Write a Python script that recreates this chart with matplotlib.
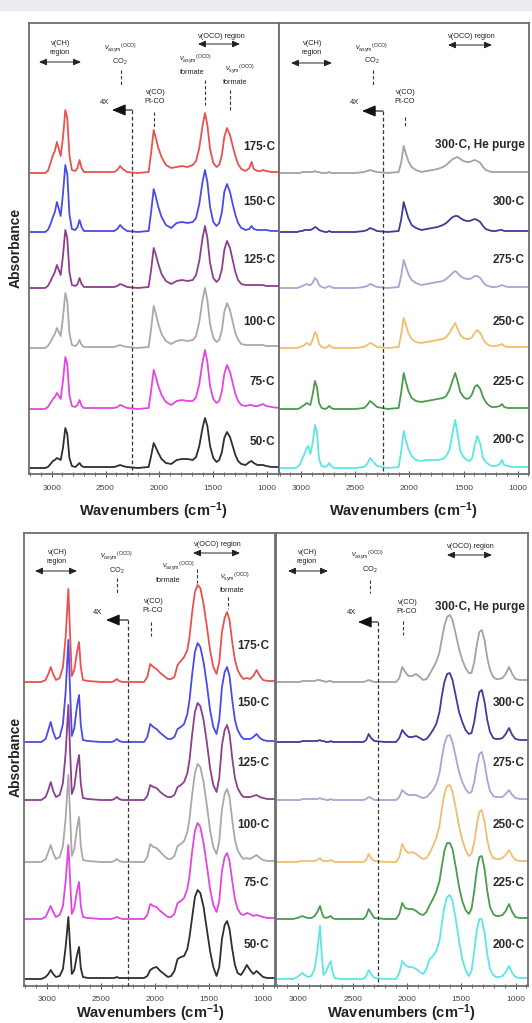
import matplotlib
matplotlib.use('Agg')
import matplotlib.pyplot as plt
from matplotlib.ticker import MultipleLocator
from matplotlib.patches import Rectangle, FancyArrowPatch
from matplotlib.lines import Line2D

plt.rcParams['font.family'] = ['Liberation Sans', 'DejaVu Sans']
plt.rcParams['mathtext.fontset'] = 'custom'
plt.rcParams['mathtext.rm'] = 'Liberation Sans'
plt.rcParams['mathtext.it'] = 'Liberation Sans:italic'
plt.rcParams['mathtext.bf'] = 'Liberation Sans:bold'

# ---------------- data (intensity, a.u.) ----------------
W_TOP = [3210, 3060, 3035, 3010, 2988, 2970, 2951, 2933, 2916, 2895, 2873, 2855, 2835, 2812, 2780,
         2760, 2741, 2722, 2700, 2500, 2420, 2390, 2364, 2340, 2300, 2200, 2100, 2077, 2053, 2035,
         2010, 1980, 1940, 1890, 1840, 1790, 1740, 1690, 1660, 1630, 1600, 1577, 1555, 1530, 1500,
         1470, 1445, 1420, 1398, 1373, 1345, 1320, 1295, 1270, 1240, 1200, 1165, 1145, 1125, 1090,
         1060, 1040, 1010, 960, 890]

TL_175 = [0, 0, 2, 10, 18, 22, 31, 24, 17, 35, 63, 55, 18, 3, 2, 5, 13, 5, 1, 1,
          1, 3, 7, 4, 1, 0, 1, 20, 43, 36, 25, 16, 8, 5, 6, 7, 6, 8, 12, 25,
          47, 60, 48, 24, 10, 6, 8, 18, 36, 45, 38, 27, 17, 9, 4, 2, 5, 11, 4, 2,
          2, 3, 2, 1, 1]
TL_150 = [0, 0, 2, 8, 15, 20, 30, 23, 16, 38, 67, 58, 18, 3, 2, 5, 12, 5, 1, 1,
          1, 3, 7, 4, 1, 0, 1, 20, 43, 36, 25, 15, 7, 4, 9, 10, 9, 10, 14, 28,
          50, 62, 50, 25, 10, 6, 9, 20, 40, 48, 40, 28, 17, 9, 4, 2, 3, 6, 3, 2,
          2, 2, 2, 1, 1]
TL_125 = [0, 0, 2, 7, 12, 16, 23, 18, 13, 32, 58, 50, 16, 3, 2, 4, 10, 4, 1, 1,
          1, 2, 4, 3, 1, 0, 1, 18, 40, 34, 24, 14, 7, 4, 7, 8, 7, 8, 13, 27,
          50, 62, 50, 25, 10, 6, 9, 19, 38, 47, 40, 28, 16, 8, 4, 3, 3, 3, 3, 3,
          3, 3, 2, 2, 2]
TL_100 = [0, 0, 2, 6, 11, 14, 20, 16, 12, 30, 55, 47, 15, 3, 2, 4, 8, 3, 1, 1,
          1, 2, 3, 2, 1, 0, 1, 19, 42, 35, 24, 14, 7, 4, 7, 8, 7, 8, 12, 26,
          48, 60, 48, 24, 10, 6, 8, 18, 36, 45, 38, 26, 15, 8, 4, 3, 3, 3, 3, 3,
          3, 3, 2, 2, 2]
TL_75 = [0, 0, 2, 6, 10, 12, 16, 13, 10, 28, 52, 45, 14, 3, 2, 4, 9, 3, 1, 1,
         1, 2, 4, 3, 1, 0, 1, 18, 39, 33, 23, 14, 7, 4, 8, 9, 8, 8, 12, 25,
         47, 59, 47, 23, 10, 6, 8, 18, 35, 44, 37, 26, 15, 8, 4, 3, 4, 4, 3, 3,
         4, 5, 3, 2, 1]
TL_50 = [0, 0, 1, 4, 7, 8, 10, 9, 8, 20, 40, 34, 10, 2, 1, 3, 5, 2, 1, 1,
         1, 2, 3, 2, 1, 0, 1, 12, 25, 21, 15, 9, 5, 4, 8, 9, 9, 8, 11, 22,
         40, 50, 42, 22, 10, 6, 8, 16, 30, 36, 31, 22, 13, 7, 4, 3, 6, 7, 5, 3,
         3, 3, 2, 1, 1]

TR_HE = [0, 0, 0, 0, 1, 1, 1, 1, 1, 1, 2, 1, 1, 0, 0, 0, 1, 0, 0, 0,
         1, 2, 3, 2, 1, 0, 1, 10, 27, 20, 12, 6, 3, 1, 2, 3, 4, 6, 8, 11,
         14, 15, 16, 14, 12, 11, 11, 12, 13, 12, 10, 6, 3, 2, 1, 1, 1, 1, 1, 1,
         1, 1, 1, 1, 1]
TR_300 = [0, 0, 0, 1, 1, 2, 2, 2, 2, 3, 5, 4, 2, 1, 0, 0, 1, 0, 0, 0,
          1, 2, 4, 3, 1, 0, 1, 12, 30, 23, 14, 7, 4, 2, 3, 4, 5, 7, 9, 12,
          15, 16, 16, 14, 12, 11, 11, 12, 13, 12, 10, 6, 3, 2, 1, 1, 2, 2, 1, 1,
          1, 1, 1, 1, 1]
TR_275 = [0, 0, 0, 1, 2, 3, 4, 3, 3, 5, 10, 8, 3, 1, 0, 1, 2, 1, 0, 0,
          1, 2, 4, 3, 1, 0, 1, 12, 28, 22, 14, 8, 5, 3, 4, 5, 6, 7, 9, 12,
          15, 17, 15, 12, 10, 9, 9, 10, 12, 12, 10, 6, 3, 2, 1, 1, 2, 3, 2, 1,
          1, 1, 1, 1, 1]
TR_250 = [0, 0, 0, 1, 2, 3, 5, 4, 3, 8, 16, 13, 4, 1, 0, 1, 3, 1, 0, 0,
          1, 3, 5, 4, 1, 0, 1, 13, 30, 24, 15, 9, 6, 5, 6, 7, 8, 9, 11, 15,
          21, 25, 19, 13, 10, 9, 9, 11, 15, 18, 15, 9, 5, 3, 2, 2, 3, 4, 2, 1,
          1, 1, 1, 1, 1]
TR_225 = [0, 0, 0, 1, 3, 4, 6, 5, 4, 14, 28, 22, 6, 1, 0, 1, 3, 1, 0, 0,
          1, 4, 8, 6, 2, 0, 1, 16, 36, 28, 18, 11, 8, 7, 8, 9, 10, 11, 13, 19,
          29, 36, 28, 17, 12, 10, 11, 15, 22, 24, 20, 12, 7, 4, 2, 2, 3, 5, 2, 1,
          1, 1, 1, 1, 1]
TR_200 = [0, 0, 1, 4, 10, 14, 20, 22, 14, 24, 43, 36, 9, 2, 1, 2, 5, 2, 0, 0,
          1, 4, 10, 7, 2, 0, 1, 16, 37, 29, 19, 12, 8, 7, 8, 8, 8, 9, 12, 18,
          36, 48, 34, 17, 11, 8, 7, 10, 22, 32, 24, 10, 6, 4, 2, 2, 4, 8, 3, 2,
          1, 1, 1, 1, 1]

W_BOT = [3210, 3050, 3010, 2985, 2963, 2940, 2915, 2880, 2850, 2825, 2800, 2785, 2768, 2745, 2720,
         2701, 2685, 2665, 2620, 2500, 2400, 2375, 2352, 2330, 2300, 2200, 2100, 2070, 2043, 2015,
         1985, 1950, 1915, 1880, 1850, 1820, 1790, 1760, 1730, 1700, 1680, 1655, 1630, 1605, 1580,
         1550, 1520, 1490, 1460, 1430, 1405, 1380, 1355, 1333, 1310, 1285, 1260, 1235, 1205, 1180,
         1150, 1120, 1090, 1060, 1030, 1000, 960, 890]

BL_175 = [0, 0, 2, 8, 15, 8, 2, 4, 15, 45, 93, 50, 6, 12, 30, 40, 15, 2, 1, 0,
          0, 1, 3, 1, 0, 0, 0, 5, 18, 15, 13, 9, 6, 3, 3, 5, 17, 21, 25, 32,
          45, 70, 90, 97, 94, 78, 56, 32, 15, 8, 20, 50, 64, 70, 62, 40, 22, 12, 6, 3,
          4, 3, 6, 12, 6, 2, 1, 1]
BL_150 = [0, 0, 3, 12, 20, 10, 3, 5, 18, 50, 102, 55, 6, 14, 36, 47, 17, 2, 1, 0,
          0, 1, 3, 1, 0, 0, 0, 5, 18, 15, 13, 9, 6, 3, 3, 5, 13, 15, 18, 28,
          42, 68, 90, 99, 95, 80, 58, 32, 15, 8, 22, 55, 70, 75, 66, 42, 22, 12, 6, 3,
          3, 3, 5, 8, 4, 2, 1, 1]
BL_125 = [0, 0, 3, 10, 18, 9, 3, 5, 17, 47, 95, 52, 6, 13, 34, 45, 16, 2, 1, 0,
          0, 1, 3, 1, 0, 0, 0, 4, 15, 13, 12, 8, 5, 3, 3, 5, 13, 15, 18, 27,
          40, 66, 88, 97, 94, 80, 58, 32, 15, 8, 22, 55, 70, 75, 66, 42, 22, 12, 6, 3,
          3, 3, 4, 5, 3, 2, 1, 1]
BL_100 = [0, 0, 3, 10, 17, 9, 3, 5, 16, 44, 87, 50, 6, 13, 34, 45, 16, 2, 1, 0,
          0, 1, 3, 1, 0, 0, 0, 5, 18, 15, 14, 10, 6, 3, 3, 6, 16, 18, 21, 30,
          43, 68, 89, 98, 95, 80, 57, 32, 15, 8, 21, 53, 68, 73, 65, 42, 22, 12, 6, 3,
          4, 3, 5, 7, 4, 2, 1, 1]
BL_75 = [0, 0, 2, 8, 13, 7, 2, 4, 13, 38, 74, 42, 5, 11, 28, 37, 13, 2, 1, 0,
         0, 1, 2, 1, 0, 0, 0, 4, 15, 13, 12, 8, 5, 2, 2, 5, 16, 18, 21, 30,
         43, 68, 88, 96, 92, 76, 54, 30, 14, 7, 18, 48, 62, 66, 58, 38, 20, 10, 5, 4,
         6, 5, 3, 4, 3, 2, 1, 1]
BL_50 = [0, 0, 2, 5, 9, 5, 2, 3, 10, 32, 62, 35, 5, 9, 24, 32, 11, 2, 1, 1,
         1, 1, 2, 1, 1, 1, 1, 3, 9, 11, 12, 8, 5, 2, 3, 8, 20, 22, 23, 30,
         42, 62, 82, 89, 86, 72, 50, 28, 12, 3, 12, 40, 54, 58, 50, 30, 14, 6, 4, 8,
         14, 9, 5, 8, 5, 2, 1, 1]

BR_HE = [0, 0, 0, 0, 1, 1, 1, 1, 1, 2, 2, 1, 1, 0, 1, 1, 0, 0, 0, 0,
         0, 1, 2, 1, 0, 0, 0, 4, 15, 10, 6, 6, 8, 5, 2, 3, 8, 14, 20, 30,
         42, 56, 65, 67, 62, 48, 33, 22, 14, 9, 9, 20, 38, 50, 52, 42, 24, 12, 5, 3,
         3, 4, 8, 15, 8, 3, 2, 2]
BR_300 = [0, 0, 0, 0, 1, 1, 1, 1, 1, 1, 2, 1, 1, 0, 0, 1, 0, 0, 0, 0,
          0, 2, 8, 4, 1, 0, 0, 4, 12, 8, 5, 5, 6, 4, 2, 3, 7, 12, 18, 30,
          45, 60, 68, 69, 62, 46, 30, 20, 12, 8, 9, 20, 38, 50, 52, 40, 22, 10, 4, 3,
          3, 4, 8, 14, 7, 3, 2, 2]
BR_275 = [0, 0, 0, 0, 1, 1, 1, 1, 1, 1, 2, 1, 1, 0, 0, 1, 0, 0, 0, 0,
          0, 1, 3, 2, 0, 0, 0, 3, 10, 7, 5, 5, 5, 3, 2, 3, 6, 10, 16, 27,
          41, 56, 64, 65, 58, 43, 28, 18, 11, 7, 8, 18, 35, 46, 48, 37, 20, 9, 4, 3,
          3, 3, 6, 10, 5, 2, 1, 1]
BR_250 = [0, 0, 0, 1, 1, 1, 1, 1, 1, 2, 4, 2, 1, 1, 1, 2, 1, 0, 0, 0,
          0, 2, 8, 4, 1, 0, 0, 5, 18, 12, 9, 10, 8, 5, 3, 4, 9, 16, 24, 36,
          52, 68, 76, 77, 70, 54, 36, 22, 12, 6, 8, 20, 38, 50, 52, 40, 22, 10, 4, 3,
          3, 4, 7, 12, 6, 2, 1, 1]
BR_225 = [0, 0, 1, 2, 3, 2, 1, 1, 3, 7, 13, 7, 2, 1, 2, 3, 1, 0, 0, 0,
          0, 3, 10, 6, 1, 0, 0, 5, 16, 11, 10, 10, 8, 5, 4, 7, 14, 20, 27, 38,
          52, 68, 76, 76, 70, 52, 32, 18, 9, 5, 10, 28, 50, 62, 63, 50, 28, 12, 5, 3,
          3, 4, 8, 15, 7, 2, 1, 1]
BR_200 = [0, 0, 2, 4, 6, 4, 2, 3, 10, 28, 53, 25, 4, 7, 14, 18, 7, 1, 0, 0,
          0, 3, 9, 5, 1, 0, 0, 6, 18, 14, 12, 12, 10, 7, 5, 10, 20, 23, 28, 38,
          54, 72, 82, 84, 78, 60, 38, 20, 9, 3, 8, 28, 50, 60, 60, 46, 25, 10, 4, 2,
          2, 3, 7, 13, 6, 2, 1, 1]

LEFT_LABELS = ['175·C', '150·C', '125·C', '100·C', '75·C', '50·C']
RIGHT_LABELS = ['300·C, He purge', '300·C', '275·C', '250·C', '225·C', '200·C']
LEFT_COLORS = ['#e8524e', '#4b4be6', '#8c3f8e', '#a9a9a9', '#e246e2', '#2e2e2e']
RIGHT_COLORS = ['#a3a3a3', '#3d3d99', '#aba4d6', '#f0be6e', '#4a9c4a', '#5ce6e8']
OFF_TOP = [301, 242, 186, 126, 65, 6]
OFF_BOT = [304, 244, 186, 124, 67, 7]
WAVE_TICKS = [3000, 2500, 2000, 1500, 1000]

# ---------------- figure ----------------
FW, FH = 532, 1023
fig = plt.figure(figsize=(FW / 100, FH / 100), dpi=100)
fig.patches.append(Rectangle((0, 1 - 10 / FH), 1, 10 / FH, transform=fig.transFigure,
                             color='#ececf1', zorder=0))


def rect(l, t, r, b):
    return [l / FW, 1 - b / FH, (r - l) / FW, (b - t) / FH]


def fx(x):
    return x / FW


def fy(y):
    return 1 - y / FH


def T(x, y, s, **kw):
    kw.setdefault('ha', 'center')
    kw.setdefault('va', 'center')
    kw.setdefault('color', '#222222')
    fig.text(fx(x), fy(y), s, **kw)


def L(x1, y1, x2, y2, dashed=False, lw=0.8, color='#333333'):
    fig.add_artist(Line2D([fx(x1), fx(x2)], [fy(y1), fy(y2)], transform=fig.transFigure,
                          lw=lw, color=color, ls=(0, (3, 2)) if dashed else '-'))


def dblarrow(x1, x2, y):
    fig.add_artist(FancyArrowPatch((fx(x1), fy(y)), (fx(x2), fy(y)), transform=fig.transFigure,
                                   arrowstyle='<|-|>,head_length=0.5,head_width=0.22',
                                   mutation_scale=9, lw=0.7, color='#222222', shrinkA=0, shrinkB=0))


def fourx(xtext, ytext, xtip, xcorner, yarr, ybottom):
    T(xtext, ytext, '4X', fontsize=5.5)
    fig.add_artist(FancyArrowPatch((fx(xcorner), fy(yarr)), (fx(xtip), fy(yarr)), transform=fig.transFigure,
                                   arrowstyle='-|>,head_length=0.6,head_width=0.25',
                                   mutation_scale=14, lw=0.8, color='#111111', shrinkA=0, shrinkB=0))
    L(xcorner, yarr, xcorner, ybottom, dashed=True, lw=0.9)


def setup(ax, h, xlim, pad):
    ax.set_xlim(*xlim)
    ax.set_ylim(0, h)
    ax.set_xticks(WAVE_TICKS)
    ax.xaxis.set_minor_locator(MultipleLocator(100))
    ax.set_yticks([])
    ax.tick_params(axis='x', which='major', direction='inout', length=4, width=0.8,
                   color='#555555', labelsize=6, labelcolor='#444444', pad=pad)
    ax.tick_params(axis='x', which='minor', direction='inout', length=2.5, width=0.6, color='#555555')
    for s in ax.spines.values():
        s.set_color('#6e6e6e')
        s.set_linewidth(1.3)


panels = [
    (rect(29, 23, 278.5, 474), 451, (3210, 895), 6.0, W_TOP,
     [TL_175, TL_150, TL_125, TL_100, TL_75, TL_50], LEFT_COLORS, OFF_TOP),
    (rect(278.5, 23, 529, 474), 451, (3210, 895), 6.0, W_TOP,
     [TR_HE, TR_300, TR_275, TR_250, TR_225, TR_200], RIGHT_COLORS, OFF_TOP),
    (rect(24, 533, 275.5, 986), 453, (3210, 885), 5.5, W_BOT,
     [BL_175, BL_150, BL_125, BL_100, BL_75, BL_50], LEFT_COLORS, OFF_BOT),
    (rect(275.5, 533, 528, 986), 453, (3210, 885), 5.5, W_BOT,
     [BR_HE, BR_300, BR_275, BR_250, BR_225, BR_200], RIGHT_COLORS, OFF_BOT),
]
for r, h, xl, pad, W, series, colors, offs in panels:
    ax = fig.add_axes(r)
    setup(ax, h, xl, pad)
    for vals, c, off in zip(series, colors, offs):
        ax.plot(W, [off + v for v in vals], color=c, lw=1.3, solid_joinstyle='round')

# ---------------- axis titles ----------------
xlab = 'Wavenumbers (cm$^{\\mathbf{-1}}$)'
for x, y in [(153.5, 511), (403.5, 511), (150, 1013), (401.5, 1013)]:
    T(x, y, xlab, fontsize=10.5, fontweight='bold')
T(16, 248, 'Absorbance', rotation=90, fontsize=10, fontweight='bold')
T(16, 757, 'Absorbance', rotation=90, fontsize=10, fontweight='bold')

# ---------------- temperature labels ----------------
lab_kw = dict(ha='right', fontsize=8.5, fontweight='bold', color='#2a2a2a')
for s, y in zip(LEFT_LABELS, [147, 202, 260, 322, 382, 442]):
    T(275, y, s, **lab_kw)
for s, y in zip(RIGHT_LABELS, [145, 202, 260, 322, 382, 440]):
    T(525, y, s, **lab_kw)
for s, y in zip(LEFT_LABELS, [646, 703, 763, 825, 883, 945]):
    T(269, y, s, **lab_kw)
for s, y in zip(RIGHT_LABELS, [607, 703, 763, 825, 883, 945]):
    T(525, y, s, **lab_kw)

# ---------------- annotations ----------------
fs = 5.3
asym = r'$\nu_{\rm asym}{}^{\rm (OCO)}$'
sym = r'$\nu_{\rm sym}{}^{\rm (OCO)}$'

# top-left
T(60, 48, 'ν(CH)\nregion', fontsize=fs, linespacing=1.5)
dblarrow(39, 81, 62)
T(121, 48, asym, fontsize=fs)
T(120, 62, 'CO$_2$', fontsize=fs)
L(121, 70, 121, 85, dashed=True)
fourx(105, 102, 112, 132, 110, 474)
T(155, 97, 'ν(CO)\nPt-CO', fontsize=fs, linespacing=1.5)
L(154, 112, 154, 128, dashed=True)
T(221, 36, 'ν(OCO) region', fontsize=fs)
dblarrow(198, 240, 44)
T(196, 59, asym, fontsize=fs)
T(192, 73, 'formate', fontsize=fs)
L(205, 80, 205, 105, dashed=True)
T(240, 69, sym, fontsize=fs)
T(235, 83, 'formate', fontsize=fs)
L(230, 90, 230, 112, dashed=True)

# top-right
T(312, 48, 'ν(CH)\nregion', fontsize=fs, linespacing=1.5)
dblarrow(291, 332, 63)
T(372, 48, asym, fontsize=fs)
T(372, 61, 'CO$_2$', fontsize=fs)
L(373, 70, 373, 85, dashed=True)
fourx(355, 102, 362, 383, 111, 474)
T(405, 97, 'ν(CO)\nPt-CO', fontsize=fs, linespacing=1.5)
L(405, 117, 405, 128, dashed=True)
T(471, 37, 'ν(OCO) region', fontsize=fs)
dblarrow(448, 492, 45)

# bottom-left
T(57, 557, 'ν(CH)\nregion', fontsize=fs, linespacing=1.5)
dblarrow(35, 77, 571)
T(117, 556, asym, fontsize=fs)
T(117, 571, 'CO$_2$', fontsize=fs)
L(117, 578, 117, 593, dashed=True)
fourx(98, 612, 106, 128, 620, 986)
T(153, 606, 'ν(CO)\nPt-CO', fontsize=fs, linespacing=1.5)
L(151, 622, 151, 636, dashed=True)
T(217, 545, 'ν(OCO) region', fontsize=fs)
dblarrow(193, 240, 553)
T(179, 566, asym, fontsize=fs)
T(168, 580, 'formate', fontsize=fs)
L(197, 569, 197, 583, dashed=True)
T(235, 577, sym, fontsize=fs)
T(232, 590, 'formate', fontsize=fs)
L(228, 597, 228, 609, dashed=True)

# bottom-right
T(307, 557, 'ν(CH)\nregion', fontsize=fs, linespacing=1.5)
dblarrow(288, 328, 571)
T(368, 555, asym, fontsize=fs)
T(370, 570, 'CO$_2$', fontsize=fs)
L(370, 580, 370, 593, dashed=True)
fourx(352, 613, 358, 378, 622, 986)
T(407, 607, 'ν(CO)\nPt-CO', fontsize=fs, linespacing=1.5)
L(403, 621, 403, 635, dashed=True)
T(470, 547, 'ν(OCO) region', fontsize=fs)
dblarrow(447, 492, 555)

fig.savefig('out.png', dpi=100)
